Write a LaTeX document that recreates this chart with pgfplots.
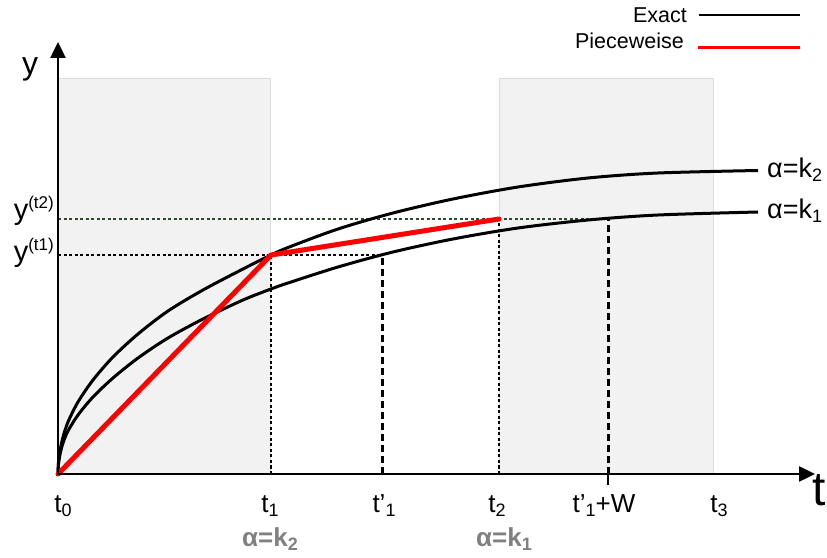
\documentclass[border=0pt]{standalone}
\usepackage{fontspec}
\setmainfont{Liberation Sans}
\usepackage{pgfplots}
\pgfplotsset{compat=1.18}
\usetikzlibrary{arrows.meta}
\definecolor{shade}{HTML}{F2F2F2}
\definecolor{shadeedge}{HTML}{DCDCDC}
\definecolor{dgreen}{HTML}{2E4A2E}
\definecolor{labgray}{HTML}{808080}
\newcommand\sub[1]{\raisebox{-4pt}{\fontsize{18}{18}\selectfont #1}}
\newcommand\sups[1]{\raisebox{11pt}{\fontsize{17}{17}\selectfont #1}}
\tikzset{lab/.style={font=\fontsize{26}{30}\selectfont, inner sep=0pt}}
\begin{document}
\begin{tikzpicture}
\begin{axis}[name=ax, scale only axis, width=827pt, height=557pt,
  xmin=-58, xmax=769, ymin=-83, ymax=474, hide axis, clip=false]
% shaded windows
\addplot[fill=shade, draw=shadeedge, line width=1pt] coordinates {(0,0) (212,0) (212,395) (0,395)} -- cycle;
\addplot[fill=shade, draw=shadeedge, line width=1pt] coordinates {(441,0) (655,0) (655,395) (441,395)} -- cycle;
% dotted guide lines
\addplot[black, line width=1.5pt, dash pattern=on 3pt off 2.5pt] coordinates {(0,219) (324,219)};
\addplot[dgreen, line width=1.5pt, dash pattern=on 3pt off 2.5pt] coordinates {(0,255) (550,255)};
\addplot[black, line width=1.5pt, dash pattern=on 3pt off 2.5pt] coordinates {(213,0) (213,219)};
\addplot[black, line width=1.5pt, dash pattern=on 3pt off 2.5pt] coordinates {(441,0) (441,255)};
\addplot[black, line width=3pt, dash pattern=on 7pt off 4pt] coordinates {(324,0) (324,219)};
\addplot[black, line width=3pt, dash pattern=on 7pt off 4pt] coordinates {(550,0) (550,255)};
\addplot[black, line width=2pt] coordinates {(550,-11) (550,6)};
% exact curves
\addplot[black, line width=3pt, smooth, tension=0.5] coordinates {
(0,0) (0.5,12) (2,23) (5,37) (10,52) (20,72) (35,94) (55,117) (80,140) (110,163)
(145,184) (185,205) (213,219) (230,226.5) (280,245) (335,261) (395,275) (460,287)
(530,296) (600,301) (700,303.5)};
\addplot[black, line width=3pt, smooth, tension=0.5] coordinates {
(0,0) (0.5,10) (2,19.5) (5,31) (10,43) (20,59) (35,77) (55,96) (80,116) (110,136)
(145,155) (185,174) (213,185) (230,191) (280,207) (335,222) (395,235) (460,246)
(530,254) (600,259) (700,262)};
% piecewise
\addplot[red, line width=5pt, line join=round, line cap=round] coordinates {(0,0) (213,219) (441,255)};
% axes
\draw[black, line width=2.5pt, -{Triangle[length=16pt,width=15pt]}] (axis cs:0,-1) -- (axis cs:0,432);
\draw[black, line width=2.5pt, -{Triangle[length=16pt,width=15pt]}] (axis cs:-1,0) -- (axis cs:757,0);
% axis names
\node[font=\fontsize{32}{36}\selectfont, inner sep=0pt, anchor=base] at (axis cs:-28,399) {y};
\node[font=\fontsize{48}{52}\selectfont, inner sep=0pt, anchor=base east] at (axis cs:768,-31) {t};
% y labels
\node[lab, font=\fontsize{29}{32}\selectfont, anchor=base east] at (axis cs:-4,254) {y\sups{(t2)}};
\node[lab, font=\fontsize{29}{32}\selectfont, anchor=base east] at (axis cs:-4,212) {y\sups{(t1)}};
% t labels
\node[lab, anchor=base] at (axis cs:5,-38) {t\sub{0}};
\node[lab, anchor=base] at (axis cs:212,-38) {t\sub{1}};
\node[lab, anchor=base] at (axis cs:326,-38) {t’\sub{1}};
\node[lab, anchor=base] at (axis cs:439,-38) {t\sub{2}};
\node[lab, anchor=base] at (axis cs:546,-38) {t’\sub{1}+W};
\node[lab, anchor=base] at (axis cs:661,-38) {t\sub{3}};
% regime labels
\node[lab, anchor=base, text=labgray, font=\fontsize{26}{30}\selectfont\bfseries] at (axis cs:212,-72) {α=k\sub{\bfseries 2}};
\node[lab, anchor=base, text=labgray, font=\fontsize{26}{30}\selectfont\bfseries] at (axis cs:446,-72) {α=k\sub{\bfseries 1}};
% curve labels
\node[lab, font=\fontsize{27}{30}\selectfont, anchor=base west] at (axis cs:709,296) {α=k\sub{2}};
\node[lab, font=\fontsize{27}{30}\selectfont, anchor=base west] at (axis cs:709,255) {α=k\sub{1}};
% legend
\node[lab, font=\fontsize{21.5}{24}\selectfont, anchor=base east] at (axis cs:629,451) {Exact};
\draw[black, line width=2pt] (axis cs:641,459) -- (axis cs:742,459);
\node[lab, font=\fontsize{21.5}{24}\selectfont, anchor=base east] at (axis cs:626,425) {Pieceweise};
\draw[red, line width=3pt] (axis cs:640,426) -- (axis cs:742,426);
\end{axis}
\pgfresetboundingbox
\path[use as bounding box] (ax.south west) rectangle (ax.north east);
\end{tikzpicture}
\end{document}
